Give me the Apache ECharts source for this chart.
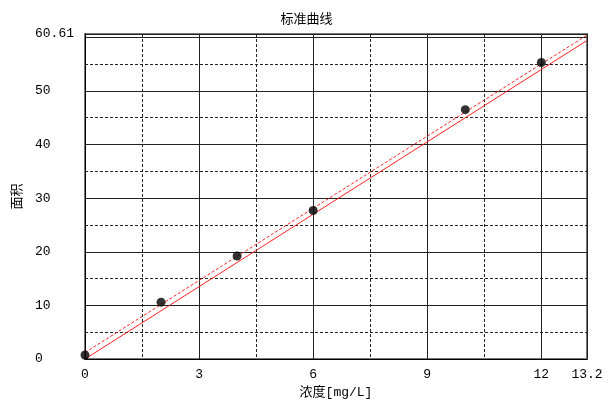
<!DOCTYPE html>
<html>
<head>
<meta charset="utf-8">
<script src="https://cdn.jsdelivr.net/npm/echarts@6/dist/echarts.min.js"></script>
<style>
  html, body { margin: 0; padding: 0; background: #fff; }
  #chart { width: 613px; height: 404px; }
</style>
</head>
<body>
<div id="chart"></div>
<script>
// Calibration standards: concentration (mg/L) and measured peak area
const concentration = [0, 2, 4, 6, 10, 12];
const area = [0.75, 10.6, 19.2, 27.7, 46.5, 55.3];

// Fitted calibration lines, given by their end points over the axis range
const fitX = [0, 13.2];
const fitSolidY = [0, 59.4];
const fitDashedY = [1.2, 60.4];

// Axis ranges
const xMax = 13.2;
const yMax = 60.61;

const monoFont = '"Liberation Mono", "Noto Sans CJK SC", monospace';
const cjkFont = '"Noto Sans CJK SC", sans-serif';

const pairs = (xs, ys) => xs.map((x, i) => [x, ys[i]]);

const gridLine = { color: '#222', width: 1, type: 'solid' };
const dashLine = { color: '#222', width: 1, type: [3, 2] };

const chart = echarts.init(document.getElementById('chart'), null, { renderer: 'canvas' });

chart.setOption({
  animation: false,
  backgroundColor: '#fff',
  title: {
    text: '标准曲线',
    left: 'center',
    top: 7,
    textStyle: { fontFamily: cjkFont, fontSize: 13, fontWeight: 'normal', color: '#000' }
  },
  grid: {
    left: 85, right: 26, top: 34, bottom: 45,
    outerBoundsMode: 'none', containLabel: false,
    show: true, borderColor: '#777', borderWidth: 2, backgroundColor: 'transparent'
  },
  xAxis: [
    {
      // minor grid: dashed lines every 1.5
      type: 'value', position: 'bottom', min: 0, max: xMax, interval: 1.5,
      axisLine: { show: false }, axisTick: { show: false }, axisLabel: { show: false },
      splitLine: { show: true, lineStyle: dashLine }
    },
    {
      // major grid and labels every 3
      type: 'value', position: 'bottom', min: 0, max: xMax, interval: 3,
      name: '浓度[mg/L]', nameLocation: 'middle', nameGap: 25,
      nameTextStyle: { fontFamily: monoFont, fontSize: 13, color: '#000' },
      axisLine: { show: true, onZero: false, lineStyle: { color: '#000', width: 1 } },
      axisTick: { show: false },
      axisLabel: { margin: 9, fontFamily: monoFont, fontSize: 13, color: '#000' },
      splitLine: { show: true, lineStyle: gridLine }
    }
  ],
  yAxis: [
    {
      type: 'value', position: 'left', min: 0, max: yMax, interval: 5,
      axisLine: { show: false }, axisTick: { show: false }, axisLabel: { show: false },
      splitLine: { show: true, lineStyle: dashLine }
    },
    {
      type: 'value', position: 'left', min: 0, max: yMax, interval: 10,
      name: '面积', nameLocation: 'middle', nameGap: 62, nameRotate: 90,
      nameTextStyle: { fontFamily: cjkFont, fontSize: 13, color: '#000' },
      axisLine: { show: true, onZero: false, lineStyle: { color: '#000', width: 1 } },
      axisTick: { show: false },
      axisLabel: {
        margin: 50, align: 'left', fontFamily: monoFont, fontSize: 13, color: '#000',
        formatter: v => (v === yMax ? String(yMax) : (v % 10 === 0 && v < 60 ? String(v) : ''))
      },
      splitLine: { show: true, lineStyle: gridLine }
    }
  ],
  series: [
    {
      type: 'line', xAxisIndex: 1, yAxisIndex: 1,
      data: pairs(fitX, fitSolidY), symbol: 'none',
      lineStyle: { color: '#ff2020', width: 1, type: 'solid' }, z: 3
    },
    {
      type: 'line', xAxisIndex: 1, yAxisIndex: 1,
      data: pairs(fitX, fitDashedY), symbol: 'none',
      lineStyle: { color: '#ff2020', width: 1, type: [3, 2] }, z: 3
    },
    {
      type: 'scatter', xAxisIndex: 1, yAxisIndex: 1,
      data: pairs(concentration, area),
      symbol: 'circle', symbolSize: 9,
      itemStyle: { color: '#000' }, z: 4
    }
  ]
});
</script>
</body>
</html>
